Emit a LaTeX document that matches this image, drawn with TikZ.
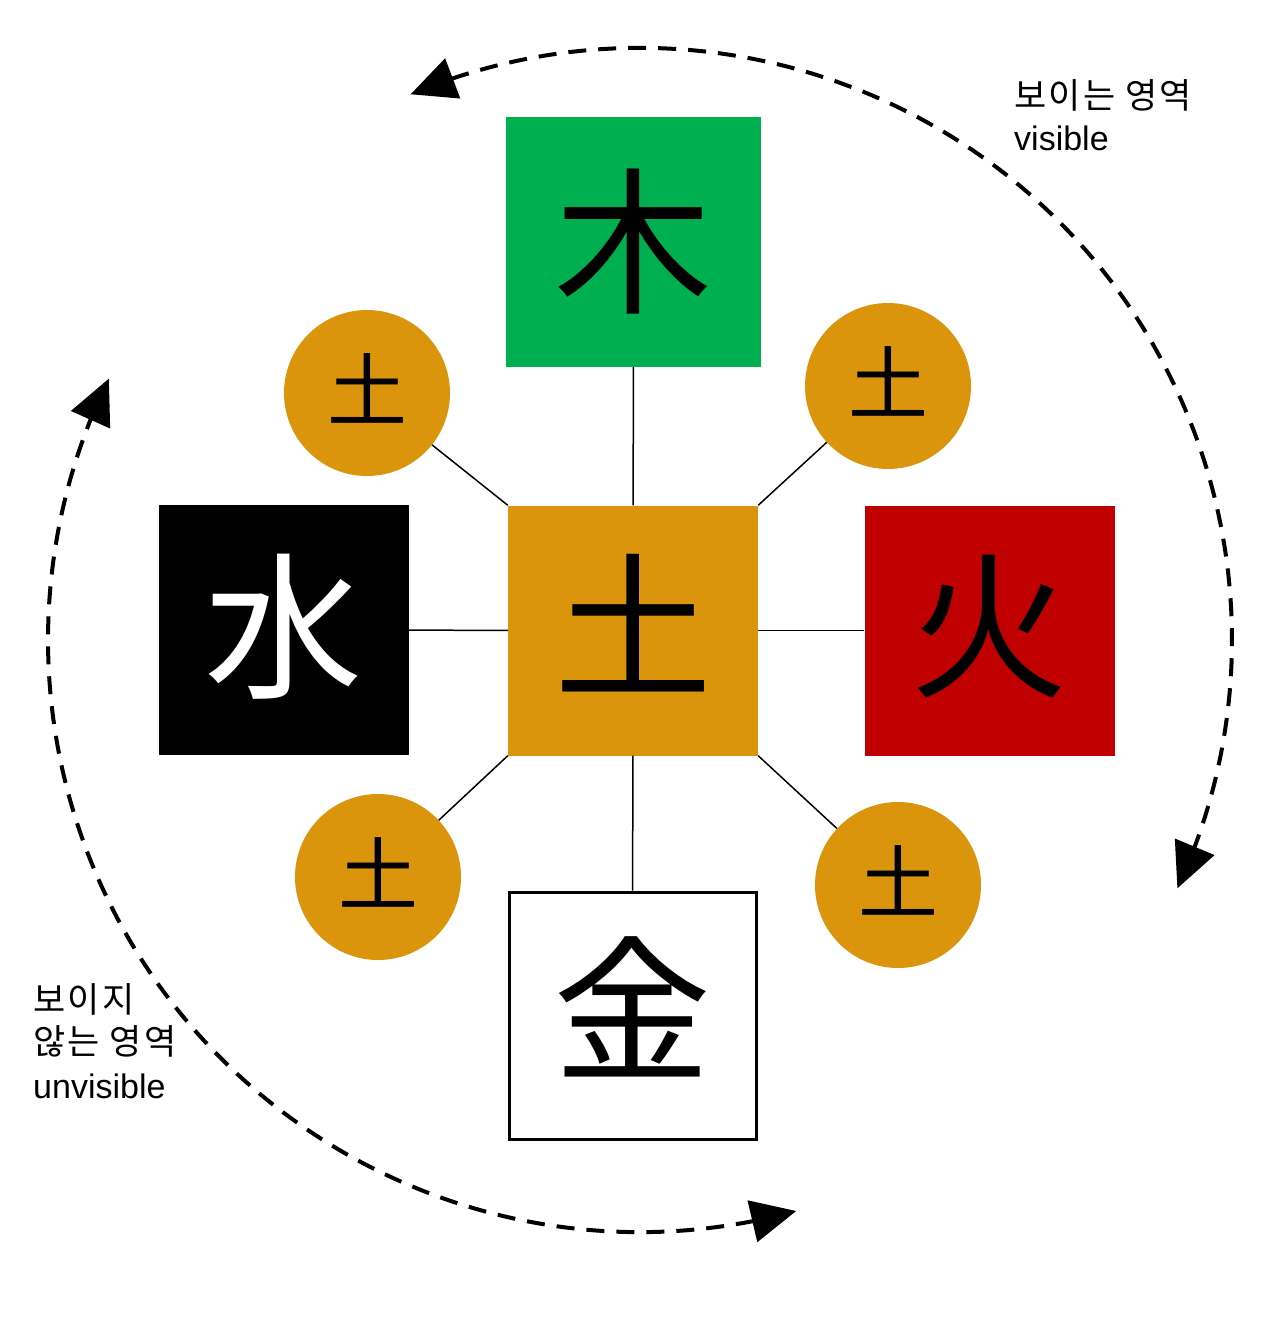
\documentclass[tikz,border=0pt]{standalone}
\usepackage{fontspec}
\setmainfont{Liberation Sans}
\newfontfamily\cjk{Noto Sans CJK KR}
\newfontfamily\cjkwide[LetterSpace=6.5]{Noto Sans CJK KR}
\usetikzlibrary{arrows.meta,bending}
\definecolor{woodc}{RGB}{0,176,80}
\definecolor{earthc}{RGB}{218,149,12}
\definecolor{firec}{RGB}{192,0,0}
\newcommand{\lift}[2]{\raisebox{#1}[\height][\depth]{#2}}
\begin{document}
\begin{tikzpicture}[x=1pt,y=-1pt,
 elem/.style={minimum width=250pt,minimum height=250pt,inner sep=0pt,font=\cjk\fontsize{158}{158}\selectfont},
 sat/.style={circle,fill=earthc,minimum size=166pt,inner sep=0pt,font=\cjk\fontsize{80}{80}\selectfont},
 link/.style={line width=1.5pt},
 cyc/.style={line width=4pt,dash pattern=on 18pt off 12pt,{Triangle[length=45pt,width=42pt,flex]}-{Triangle[length=45pt,width=42pt,flex]}},
 lbl/.style={anchor=base west,inner sep=0pt,font=\fontsize{34}{40}\selectfont},
 klbl/.style={anchor=base west,inner sep=0pt,font=\cjkwide\fontsize{35}{40}\selectfont}]
\useasboundingbox[fill=white] (0,0) rectangle (1280,1324);

\draw[cyc] (640,640) ++(-112.8:592) arc[start angle=-112.8,end angle=24.8,radius=592];
\draw[cyc] (640,640) ++(74.7:592) arc[start angle=74.7,end angle=206.2,radius=592];

\node[elem,fill=woodc,minimum width=255pt] (wood) at (633.5,242) {木};
\node[elem,fill=earthc] (earth) at (633,630.5) {\lift{7.5pt}{土}};
\node[elem,fill=black,text=white] (water) at (283.5,630) {\lift{3pt}{水}};
\node[elem,fill=firec] (fire) at (989.5,630.5) {\lift{3.5pt}{火}};
\node[elem,draw=black,line width=3pt,minimum width=247pt,minimum height=247pt] (metal) at (632.5,1015.5) {\lift{9pt}{金}};

\node[sat] (s1) at (367,393) {\lift{4.5pt}{土}};
\node[sat] (s2) at (888,386) {\lift{4.5pt}{土}};
\node[sat] (s3) at (378,877) {\lift{4.5pt}{土}};
\node[sat] (s4) at (898,885) {\lift{4.5pt}{土}};

\draw[link] (wood) -- (earth);
\draw[link] (water) -- (earth);
\draw[link] (earth) -- (fire);
\draw[link] (earth) -- (metal);
\draw[link] (s1) -- (earth.north west);
\draw[link] (s2) -- (earth.north east);
\draw[link] (s3) -- (earth.south west);
\draw[link] (s4) -- (earth.south east);

\node[klbl] (vis1) at (1014,109) {보이는 영역};
\node[lbl] (vis2) at (1014,151) {visible};
\node[klbl] (inv1) at (33,1012) {보이지};
\node[klbl] (inv2) at (33,1054) {않는 영역};
\node[lbl] (inv3) at (33,1098) {unvisible};
\end{tikzpicture}
\end{document}
